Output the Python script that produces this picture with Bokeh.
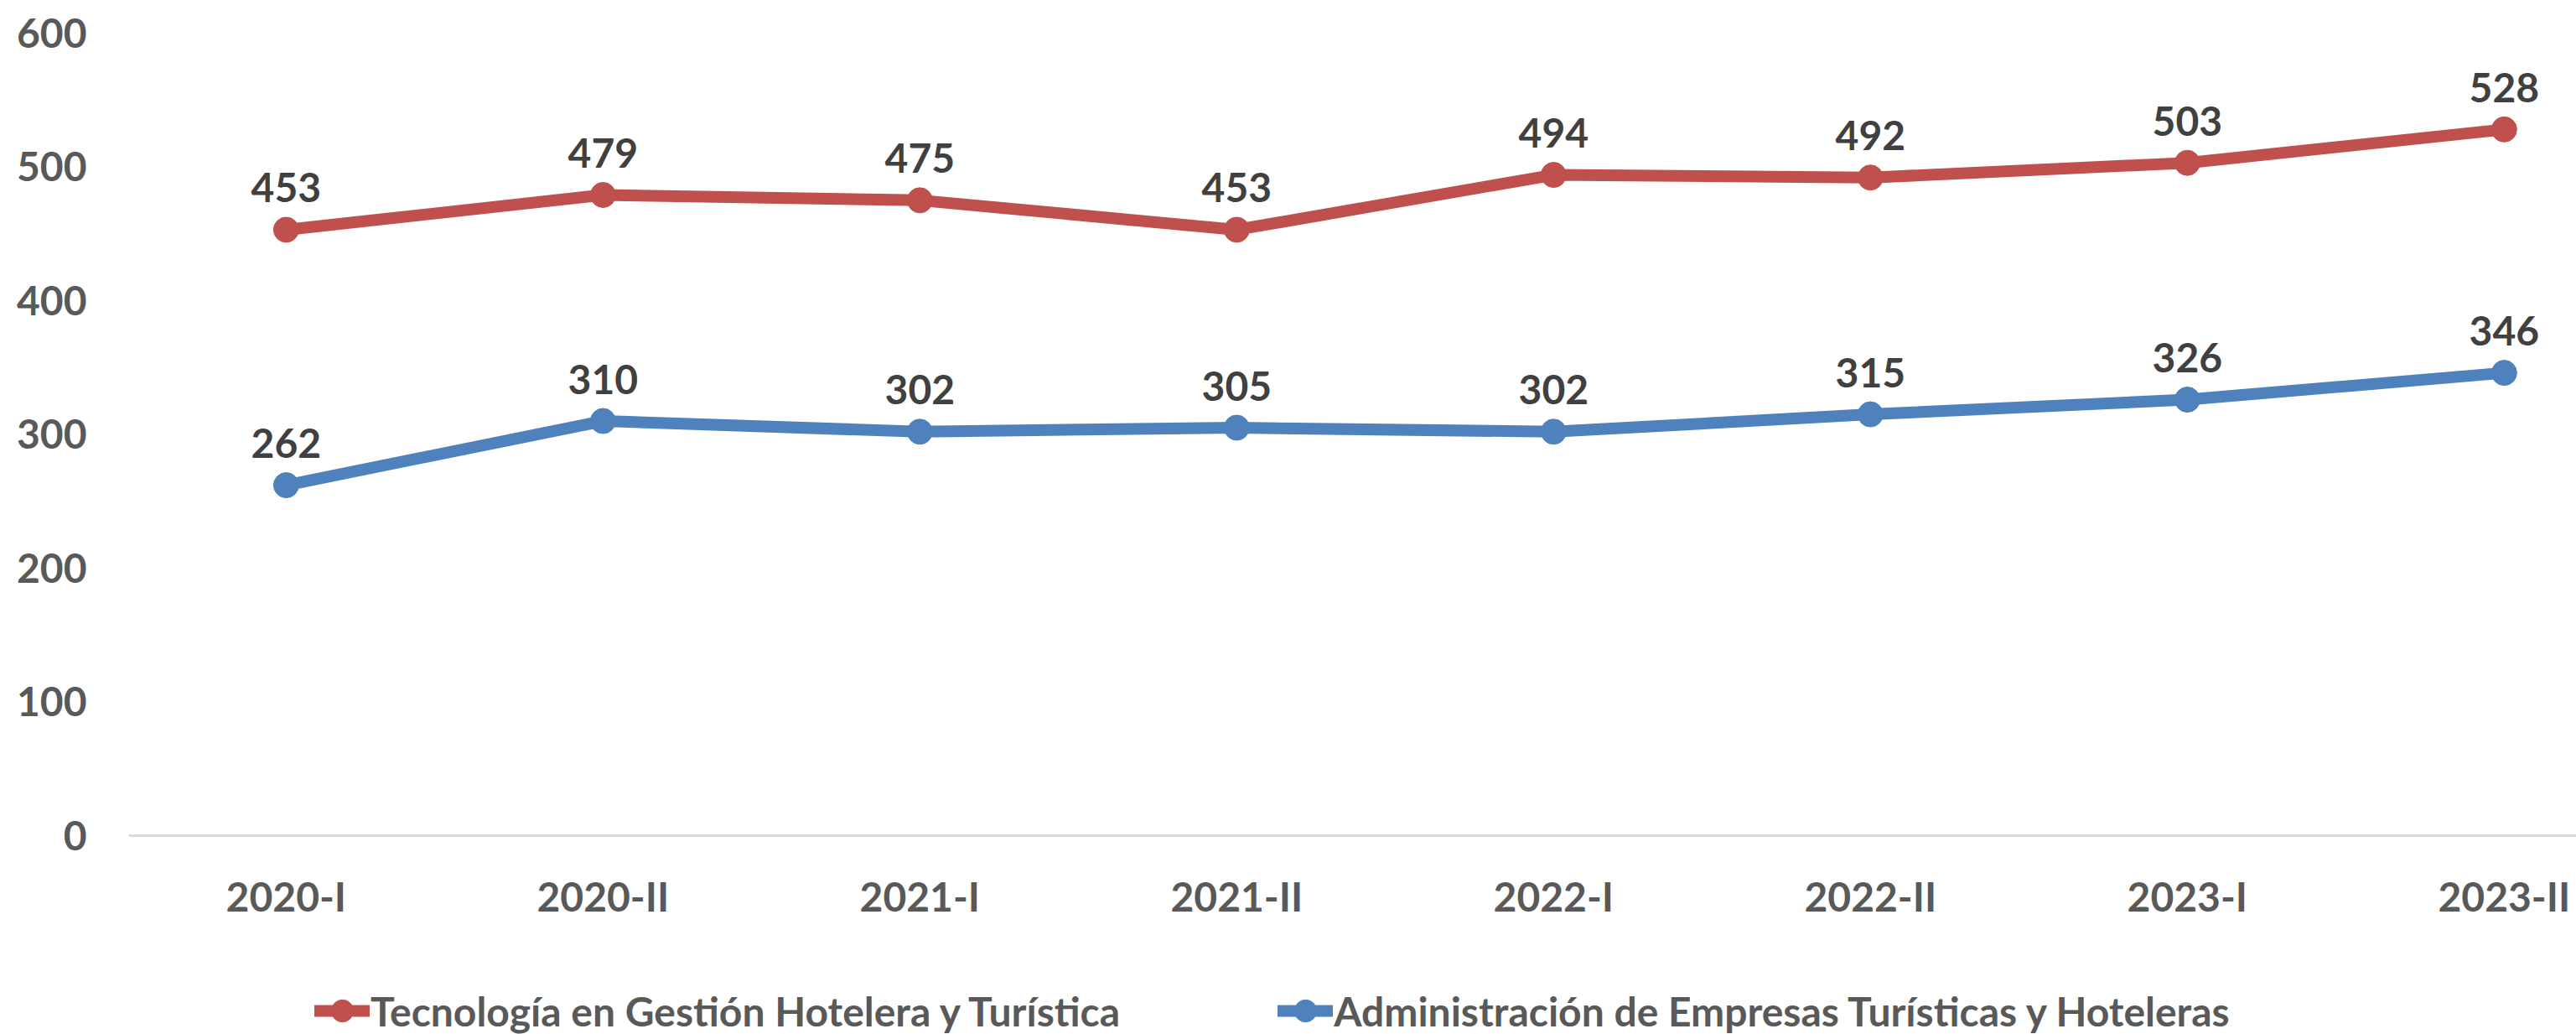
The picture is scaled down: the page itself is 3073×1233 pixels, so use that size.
from bokeh.plotting import figure
from bokeh.models import Range1d, FixedTicker, ColumnDataSource, Legend, LegendItem, LinearAxis
from bokeh.core.properties import value
from bokeh.embed import file_html
from bokeh.resources import INLINE

categories = ["2020-I", "2020-II", "2021-I", "2021-II", "2022-I", "2022-II", "2023-I", "2023-II"]
tecnologia = [453, 479, 475, 453, 494, 492, 503, 528]
administracion = [262, 310, 302, 305, 302, 315, 326, 346]
series_names = ["Tecnología en Gestión Hotelera y Turística",
                "Administración de Empresas Turísticas y Hoteleras"]
y_ticks = [0, 100, 200, 300, 400, 500, 600]

FONT = "Lato"
RED = "#C0504D"
BLUE = "#4F81BD"

xs = list(range(len(categories)))

p = figure(width=3073, height=1233, output_backend="svg", toolbar_location=None,
           x_range=Range1d(-0.497, 7.228), y_range=Range1d(-148.6, 600),
           x_axis_location=None,
           min_border_left=153, min_border_right=0, min_border_top=39, min_border_bottom=0)
p.outline_line_color = None
p.grid.visible = False

xaxis = LinearAxis(ticker=FixedTicker(ticks=xs), fixed_location=0,
                   major_label_overrides={i: c for i, c in enumerate(categories)})
p.add_layout(xaxis, "below")
p.yaxis.ticker = FixedTicker(ticks=y_ticks)
for ax in (xaxis, p.yaxis[0]):
    ax.major_tick_line_color = None
    ax.minor_tick_line_color = None
    ax.major_label_text_font = FONT
    ax.major_label_text_font_style = "bold"
    ax.major_label_text_font_size = "48px"
    ax.major_label_text_color = "#595959"
xaxis.axis_line_color = "#D9D9D9"
xaxis.axis_line_width = 3
xaxis.major_label_standoff = 38
p.yaxis.axis_line_color = None
p.yaxis.major_label_standoff = 44

items = []
for vals, color, name in ((tecnologia, RED, series_names[0]), (administracion, BLUE, series_names[1])):
    src = ColumnDataSource(dict(x=xs, y=vals, t=[str(v) for v in vals]))
    r1 = p.line("x", "y", source=src, line_color=color, line_width=14, line_join="round", line_cap="round")
    r2 = p.scatter("x", "y", source=src, size=30, fill_color=color, line_color=color)
    p.text("x", "y", text="t", source=src, text_align="center", text_baseline="middle",
           y_offset=-50, text_font=value(FONT), text_font_style="bold", text_font_size="48px",
           text_color="#404040")
    items.append(LegendItem(label=name, renderers=[r1, r2]))

legend = Legend(items=items, orientation="horizontal", location=(222, -7),
                label_text_font=FONT, label_text_font_style="bold", label_text_font_size="48px",
                label_text_color="#595959", glyph_width=66, glyph_height=70,
                spacing=188, padding=0, margin=0, label_standoff=1,
                border_line_color=None, background_fill_alpha=0)
p.add_layout(legend, "center")

open("out.html", "w").write(file_html(p, INLINE))
